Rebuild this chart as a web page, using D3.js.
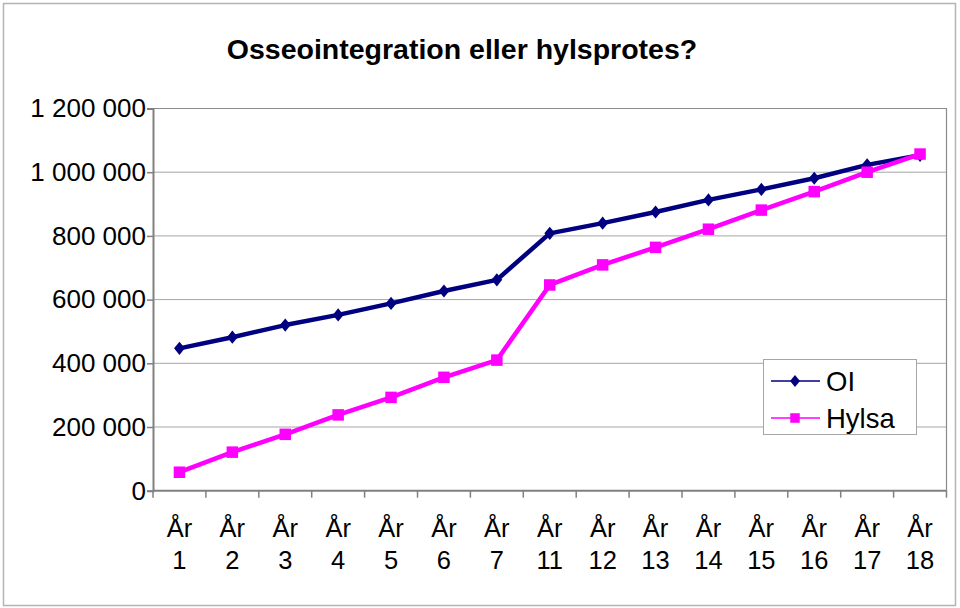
<!DOCTYPE html>
<html>
<head>
<meta charset="utf-8">
<script src="https://cdn.jsdelivr.net/npm/d3@7"></script>
<style>
  html, body { margin: 0; padding: 0; background: #fff; }
  svg { display: block; font-family: "Liberation Sans", Arial, sans-serif; }
</style>
</head>
<body>
<div id="chart"></div>
<script>
const width = 960;
const height = 608;

// =====================
// データ
// =====================
const categories = ["År 1", "År 2", "År 3", "År 4", "År 5", "År 6", "År 7",
  "År 11", "År 12", "År 13", "År 14", "År 15", "År 16", "År 17", "År 18"];
const oiValues = [447000, 482000, 520000, 552000, 588000, 627000, 662000,
  808000, 840000, 875000, 913000, 946000, 981000, 1023000, 1053000];
const hylsaValues = [58000, 121000, 177000, 238000, 293000, 356000, 410000,
  646000, 709000, 764000, 821000, 881000, 939000, 1000000, 1057000];
const yTicks = [0, 200000, 400000, 600000, 800000, 1000000, 1200000];
const seriesNames = ["OI", "Hylsa"];

const series = [
  { name: seriesNames[0], values: oiValues, color: "#000080", marker: "diamond" },
  { name: seriesNames[1], values: hylsaValues, color: "#ff00ff", marker: "square" }
];

const svg = d3.select("#chart")
  .append("svg")
  .attr("width", width)
  .attr("height", height);

// 外枠
svg.append("rect")
  .attr("x", 3.5).attr("y", 3.5)
  .attr("width", 952).attr("height", 602)
  .attr("fill", "#fff")
  .attr("stroke", "#b4b4b4")
  .attr("stroke-width", 1.5);

// =====================
// スケール
// =====================
const plot = { left: 153, right: 946.5, top: 108.5, bottom: 490.7 };

const x = d3.scaleBand()
  .domain(categories)
  .range([plot.left, plot.right])
  .padding(0);

const y = d3.scaleLinear()
  .domain([0, 1200000])
  .range([plot.bottom, plot.top]);

const cx = c => x(c) + x.bandwidth() / 2;
const fmt = v => d3.format(",")(v).replace(/,/g, " ");

// グリッド線
svg.append("g")
  .selectAll("line")
  .data(yTicks.filter(t => t > 0))
  .join("line")
  .attr("x1", plot.left).attr("x2", plot.right)
  .attr("y1", d => y(d)).attr("y2", d => y(d))
  .attr("stroke", "#a6a6a6")
  .attr("stroke-width", 1);

// プロットエリア枠（上・右）
svg.append("path")
  .attr("d", `M${plot.left},${plot.top}H${plot.right}V${plot.bottom}`)
  .attr("fill", "none")
  .attr("stroke", "#8c8c8c")
  .attr("stroke-width", 1.2);

// Y軸
const yAxis = svg.append("g")
  .attr("transform", `translate(${plot.left},0)`)
  .call(d3.axisLeft(y).tickValues(yTicks).tickSize(6).tickPadding(1).tickFormat(fmt));
yAxis.select(".domain").attr("stroke", "#808080").attr("stroke-width", 2);
yAxis.selectAll(".tick line").attr("stroke", "#808080").attr("stroke-width", 1.5);
yAxis.selectAll(".tick text")
  .attr("font-size", 26)
  .attr("font-family", "Liberation Sans, Arial, sans-serif")
  .attr("fill", "#000");

// X軸（目盛りはカテゴリ境界）
const xAxis = svg.append("g")
  .attr("transform", `translate(0,${plot.bottom})`);
xAxis.append("line")
  .attr("x1", plot.left).attr("x2", plot.right)
  .attr("stroke", "#808080").attr("stroke-width", 2);
xAxis.selectAll(".xtick")
  .data(categories.concat([null]))
  .join("line")
  .attr("class", "xtick")
  .attr("x1", d => d ? x(d) : plot.right)
  .attr("x2", d => d ? x(d) : plot.right)
  .attr("y1", 0).attr("y2", 7)
  .attr("stroke", "#808080").attr("stroke-width", 1.5);

const xLabels = xAxis.selectAll(".xlabel")
  .data(categories)
  .join("text")
  .attr("class", "xlabel")
  .attr("text-anchor", "middle")
  .attr("font-size", 25.5)
  .attr("fill", "#000");
xLabels.append("tspan")
  .attr("x", d => cx(d)).attr("y", 46)
  .text(d => d.split(" ")[0]);
xLabels.append("tspan")
  .attr("x", d => cx(d)).attr("y", 78)
  .text(d => d.split(" ")[1]);

// =====================
// マーカー
// =====================
function markerPath(type, s) {
  if (type === "diamond") {
    const w = s * 0.45, h = s * 0.55;
    return `M0,${-h}L${w},0L0,${h}L${-w},0Z`;
  }
  const h = s / 2;
  return `M${-h},${-h}H${h}V${h}H${-h}Z`;
}

// 系列
series.forEach(s => {
  const line = d3.line()
    .x((d, i) => cx(categories[i]))
    .y(d => y(d));

  svg.append("path")
    .datum(s.values)
    .attr("d", line)
    .attr("fill", "none")
    .attr("stroke", s.color)
    .attr("stroke-width", 4.5)
    .attr("stroke-linejoin", "round");

  svg.append("g")
    .selectAll("path")
    .data(s.values)
    .join("path")
    .attr("transform", (d, i) => `translate(${cx(categories[i])},${y(d)})`)
    .attr("d", markerPath(s.marker, s.marker === "diamond" ? 12 : 11.5))
    .attr("fill", s.color);
});

// =====================
// タイトル
// =====================
svg.append("text")
  .attr("x", 462)
  .attr("y", 59)
  .attr("text-anchor", "middle")
  .attr("font-size", 28.5)
  .attr("font-weight", "bold")
  .attr("fill", "#000")
  .text("Osseointegration eller hylsprotes?");

// =====================
// 凡例
// =====================
const legend = svg.append("g")
  .attr("transform", "translate(763,359)");

legend.append("rect")
  .attr("x", 0.5).attr("y", 0.5)
  .attr("width", 153).attr("height", 75)
  .attr("fill", "#fff")
  .attr("stroke", "#a6a6a6")
  .attr("stroke-width", 1);

series.forEach((s, i) => {
  const ly = 22 + i * 37;
  legend.append("line")
    .attr("x1", 8).attr("x2", 57)
    .attr("y1", ly).attr("y2", ly)
    .attr("stroke", s.color)
    .attr("stroke-width", 1.5);
  legend.append("path")
    .attr("transform", `translate(32,${ly})`)
    .attr("d", markerPath(s.marker, s.marker === "diamond" ? 11 : 9.5))
    .attr("fill", s.color);
  legend.append("text")
    .attr("x", 63)
    .attr("y", ly + 9.5)
    .attr("font-size", 27.5)
    .attr("fill", "#000")
    .text(s.name);
});
</script>
</body>
</html>
